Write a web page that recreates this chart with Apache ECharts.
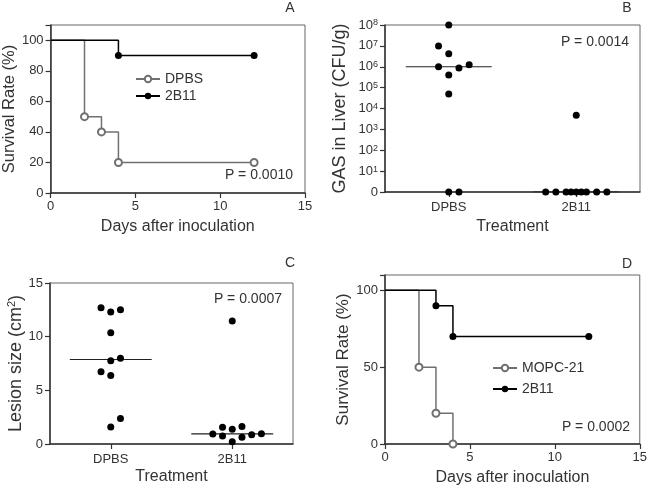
<!DOCTYPE html>
<html><head><meta charset="utf-8">
<script src="https://cdn.jsdelivr.net/npm/echarts@6/dist/echarts.min.js"></script>
<style>html,body{margin:0;padding:0;background:#fff}#c{width:650px;height:489px}</style>
</head><body><div id="c"></div>
<script>
// ---- Panel A: survival after inoculation ----
const daysA_DPBS = [0, 2, 3, 4, 12];
const survA_DPBS = [100, 50, 40, 20, 20];
const daysA_2B11 = [0, 4, 12];
const survA_2B11 = [100, 90, 90];
// ---- Panel D ----
const daysD_MOPC = [0, 2, 3, 4];
const survD_MOPC = [100, 50, 20, 0];
const daysD_2B11 = [0, 3, 4, 12];
const survD_2B11 = [100, 90, 70, 70];
// ---- Panel B: GAS in liver (CFU/g), 0 = none detected ----
const groups = ['DPBS', '2B11'];
const cfuB_DPBS = [1e8, 1e7, 4.2e6, 1e6, 8.7e5, 1.25e6, 4e5, 5e4, 0, 0];
const slotB_DPBS = [0, -2, 0, -2, 2, 4, 0, 0, 0, 2];
const cfuB_2B11 = [4.7e3, 0, 0, 0, 0, 0, 0, 0, 0, 0];
const slotB_2B11 = [0, -6, -4, -2, -1, 0, 1, 2, 4, 6];
const medianB = [1e6, 0];
const logTicksB = [0, 1, 2, 3, 4, 5, 6, 7, 8];
// ---- Panel C: lesion size (cm2) ----
const lesionC_DPBS = [12.7, 12.3, 12.5, 10.36, 7.75, 8.0, 6.72, 6.38, 2.37, 1.59];
const slotC_DPBS = [-2, 0, 2, 0, 0, 2, -2, 0, 2, 0];
const lesionC_2B11 = [11.45, 0.93, 1.56, 0.75, 1.37, 0.22, 1.62, 0.62, 0.87, 0.96];
const slotC_2B11 = [0, -4, -2, -2, 0, 0, 2, 2, 4, 6];
const medianC = [7.875, 0.945];
const pValues = ['P = 0.0010', 'P = 0.0014', 'P = 0.0007', 'P = 0.0002'];
const panelLabels = ['A', 'B', 'C', 'D'];

const FONT = "'Liberation Sans', Arial, sans-serif";
const TXT = '#333';
const AXC = '#333';
const GRAY = '#707070';
const SLOT = 0.04, HALF = 0.337;
const toLog = v => v > 0 ? Math.log10(v) : 0;

const chart = echarts.init(document.getElementById('c'), null, {renderer: 'canvas'});

const grids = [
  {left: 50, top: 25, width: 255, height: 168},
  {left: 385, top: 25, width: 255, height: 167},
  {left: 50, top: 283, width: 243, height: 161},
  {left: 385, top: 275, width: 256, height: 169}
].map(g => Object.assign({show: true, borderColor: '#666', borderWidth: 1, backgroundColor: 'transparent'}, g));

const axisLineC = {lineStyle: {color: AXC, width: 1.5}};
const tickC = {show: true, inside: false, length: 5, lineStyle: {color: AXC, width: 1.2}};
const labC = {color: TXT, fontSize: 13, fontFamily: FONT};
const nameX = {color: TXT, fontSize: 16, fontFamily: FONT};
const nameY = s => ({color: TXT, fontSize: s, fontFamily: FONT});

function valX(gi, gap) {
  return {type: 'value', gridIndex: gi, min: 0, max: 15, interval: 5, name: 'Days after inoculation',
    nameLocation: 'middle', nameGap: gap, nameTextStyle: nameX, axisLine: axisLineC, axisTick: tickC,
    axisLabel: Object.assign({margin: 7}, labC), splitLine: {show: false}};
}
function catX(gi, gap) {
  return {type: 'category', gridIndex: gi, data: groups, name: 'Treatment', nameLocation: 'middle',
    nameGap: gap, nameTextStyle: nameX, axisLine: axisLineC,
    axisTick: Object.assign({alignWithLabel: true}, tickC), axisLabel: Object.assign({margin: 9}, labC)};
}
function hidX(gi) {
  return {type: 'value', gridIndex: gi, min: 0, max: 2, show: false, splitLine: {show: false}};
}

const xAxes = [valX(0, 26), catX(1, 27), catX(2, 25), valX(3, 26), hidX(1), hidX(2)];

const yAxes = [
  {type: 'value', gridIndex: 0, min: 0, max: 110, interval: 20, name: 'Survival Rate (%)',
    nameLocation: 'middle', nameRotate: 90, nameGap: 32, nameTextStyle: nameY(16.5),
    axisLine: axisLineC, axisTick: tickC, axisLabel: Object.assign({margin: 7,
      formatter: v => v > 100 ? '' : String(v)}, labC), splitLine: {show: false}},
  {type: 'value', gridIndex: 1, min: 0, max: 8, interval: 1, name: 'GAS in Liver (CFU/g)',
    nameLocation: 'middle', nameRotate: 90, nameGap: 36, nameTextStyle: nameY(18),
    axisLine: axisLineC, axisTick: tickC,
    axisLabel: Object.assign({margin: 7,
      formatter: v => logTicksB.indexOf(v) < 0 ? '' : (v === 0 ? '0' : '10{sup|' + v + '}'),
      rich: {sup: {fontSize: 9, fontFamily: FONT, color: TXT, verticalAlign: 'top', lineHeight: 9, padding: [0, 0, 8, 0]}}
    }, labC), splitLine: {show: false}},
  {type: 'value', gridIndex: 2, min: 0, max: 15, interval: 5, name: 'Lesion size (cm{sup|2})',
    nameLocation: 'middle', nameRotate: 90, nameGap: 23,
    nameTextStyle: Object.assign({rich: {sup: {fontSize: 11, fontFamily: FONT, color: TXT, verticalAlign: 'top', lineHeight: 11, padding: [0, 0, 7, 0]}}}, nameY(18)),
    axisLine: axisLineC, axisTick: tickC, axisLabel: Object.assign({margin: 7}, labC), splitLine: {show: false}},
  {type: 'value', gridIndex: 3, min: 0, max: 110, interval: 50, name: 'Survival Rate (%)',
    nameLocation: 'middle', nameRotate: 90, nameGap: 33, nameTextStyle: nameY(17),
    axisLine: axisLineC, axisTick: tickC, axisLabel: Object.assign({margin: 7,
      formatter: v => v > 100 ? '' : String(v)}, labC), splitLine: {show: false}}
];

function km(name, xs, ys, gi, hollow, color) {
  return {
    type: 'line', name, xAxisIndex: gi, yAxisIndex: gi, step: 'end', showAllSymbol: true,
    symbol: hollow ? 'emptyCircle' : 'circle', symbolSize: 7,
    data: xs.map((x, i) => ({value: [x, ys[i]], symbolSize: i === 0 ? 0 : 7})),
    lineStyle: {color, width: 1.5},
    itemStyle: {color, borderWidth: 1},
    emphasis: {disabled: true}, z: hollow ? 3 : 4
  };
}
function dots(name, vals, slots, center, xi, yi, tf) {
  return {
    type: 'scatter', name, xAxisIndex: xi, yAxisIndex: yi, symbol: 'circle', symbolSize: 7,
    data: vals.map((v, i) => [center + slots[i] * SLOT, tf(v)]),
    itemStyle: {color: '#000', opacity: 1}, z: 5, emphasis: {disabled: true}
  };
}
function medLine(meds, xi, yi, tf) {
  return meds.map((m, k) => ({
    type: 'line', xAxisIndex: xi, yAxisIndex: yi, symbol: 'none', silent: true,
    data: [[k + 0.5 - HALF, tf(m)], [k + 0.5 + HALF, tf(m)]],
    lineStyle: {color: '#222', width: 1.2}, z: 3
  }));
}
const id = v => v;

const series = [
  km('DPBS', daysA_DPBS, survA_DPBS, 0, true, GRAY),
  km('2B11', daysA_2B11, survA_2B11, 0, false, '#000'),
  km('MOPC-21', daysD_MOPC, survD_MOPC, 3, true, GRAY),
  km('2B11', daysD_2B11, survD_2B11, 3, false, '#000'),
  dots('B-DPBS', cfuB_DPBS, slotB_DPBS, 0.5, 4, 1, toLog),
  dots('B-2B11', cfuB_2B11, slotB_2B11, 1.5, 4, 1, toLog),
  ...medLine(medianB, 4, 1, toLog),
  dots('C-DPBS', lesionC_DPBS, slotC_DPBS, 0.5, 5, 2, id),
  dots('C-2B11', lesionC_2B11, slotC_2B11, 1.5, 5, 2, id),
  ...medLine(medianC, 5, 2, id)
];

const legendBase = {orient: 'vertical', itemWidth: 24, itemHeight: 8, selectedMode: false, padding: 0,
  textStyle: {color: TXT, fontSize: 14, fontFamily: FONT}};

const txt = (text, x, y, align, size) => ({type: 'text', x, y,
  style: {text, fill: TXT, font: size + 'px ' + FONT, textAlign: align, textVerticalAlign: 'middle'}});

chart.setOption({
  animation: false,
  backgroundColor: '#fff',
  grid: grids,
  xAxis: xAxes,
  yAxis: yAxes,
  legend: [
    Object.assign({data: ['DPBS', '2B11'], left: 135, top: 72, itemGap: 3}, legendBase),
    Object.assign({data: ['MOPC-21', '2B11'], left: 492, top: 361, itemGap: 7}, legendBase)
  ],
  series,
  graphic: [
    txt(panelLabels[0], 290, 8, 'center', 14),
    txt(panelLabels[1], 627, 8, 'center', 14),
    txt(panelLabels[2], 290, 263, 'center', 14),
    txt(panelLabels[3], 627, 264, 'center', 14),
    txt(pValues[0], 293, 175, 'right', 14),
    txt(pValues[1], 629, 42, 'right', 14),
    txt(pValues[2], 282, 299, 'right', 14),
    txt(pValues[3], 630, 427, 'right', 14)
  ]
});
</script></body></html>
